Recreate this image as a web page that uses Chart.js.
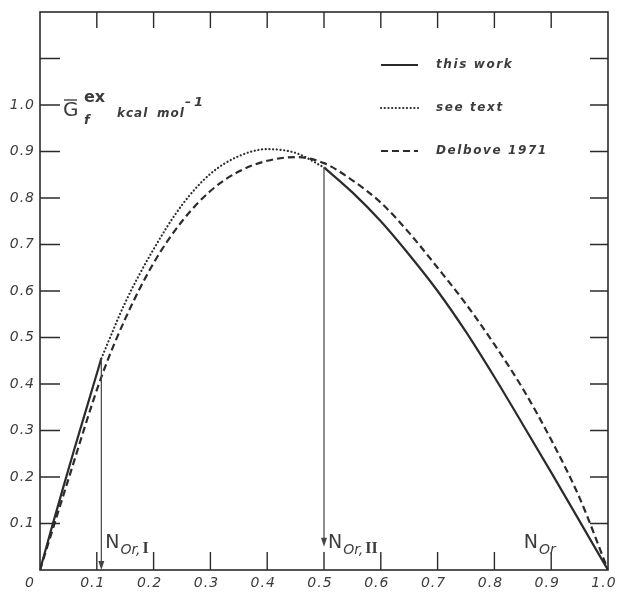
<!DOCTYPE html>
<html>
<head>
<meta charset="utf-8">
<script src="https://cdn.jsdelivr.net/npm/chart.js@4/dist/chart.umd.min.js"></script>
<style>
    html, body { margin: 0; padding: 0; background: #fff; }
</style>
</head>
<body>
<canvas id="graficoEnergia" width="618" height="592"></canvas>
<script>

// ------------------------------------------------ DATOS ------------------------------------------------

    const xTicks = [0, 0.1, 0.2, 0.3, 0.4, 0.5, 0.6, 0.7, 0.8, 0.9, 1.0];
    const xTickLabels = ['0', '0.1', '0.2', '0.3', '0.4', '0.5', '0.6', '0.7', '0.8', '0.9', '1.0'];
    const yTicks = [0.1, 0.2, 0.3, 0.4, 0.5, 0.6, 0.7, 0.8, 0.9, 1.0, 1.1];
    const yTickLabels = ['0.1', '0.2', '0.3', '0.4', '0.5', '0.6', '0.7', '0.8', '0.9', '1.0', ''];

    const nombresSeries = ['this work', 'see text', 'Delbove 1971'];

    // this work (null = hueco entre las dos ramas)
    const thisWorkX = [0, 0.02, 0.04, 0.06, 0.08, 0.108, 0.3, 0.5, 0.55, 0.6, 0.65, 0.7, 0.75, 0.8, 0.85, 0.9, 0.95, 1.0];
    const thisWorkY = [0, 0.088, 0.174, 0.258, 0.34, 0.455, null, 0.866, 0.812, 0.75, 0.678, 0.60, 0.512, 0.415, 0.313, 0.21, 0.105, 0];

    // see text
    const seeTextX = [0.108, 0.15, 0.2, 0.25, 0.3, 0.35, 0.4, 0.45, 0.5];
    const seeTextY = [0.455, 0.575, 0.69, 0.785, 0.852, 0.89, 0.905, 0.897, 0.866];

    // Delbove 1971
    const delboveX = [0, 0.05, 0.108, 0.15, 0.2, 0.25, 0.3, 0.35, 0.4, 0.45, 0.5, 0.55, 0.6, 0.65, 0.7, 0.75, 0.8, 0.85, 0.9, 0.95, 1.0];
    const delboveY = [0, 0.195, 0.415, 0.54, 0.66, 0.75, 0.815, 0.857, 0.88, 0.888, 0.875, 0.838, 0.79, 0.725, 0.65, 0.572, 0.485, 0.39, 0.28, 0.155, 0];

    // flechas verticales N_Or,I y N_Or,II
    const flechasX = [0.108, 0.5];
    const flechasArriba = [0.455, 0.866];
    const flechasAbajo = [0, 0.05];
    const flechasRomano = ['I', 'II'];

    const composicionNOr = 0.85;

// ------------------------------------------------ PLUGIN DIBUJO ------------------------------------------------

    const colorTinta = '#2b2b2b';
    const colorTexto = '#3c3c3c';

    function puntos(xs, ys) {
        return xs.map((x, i) => ({ x: x, y: ys[i] }));
    }

    function etiquetaN(ctx, x, base, romano, subTexto) {
        ctx.fillStyle = colorTexto;
        ctx.textAlign = 'left';
        ctx.textBaseline = 'alphabetic';
        ctx.letterSpacing = '0px';
        ctx.font = '19px "DejaVu Sans"';
        ctx.fillText('N', x, base);
        let px = x + ctx.measureText('N').width + 1;
        ctx.font = 'italic 14px "DejaVu Sans"';
        ctx.fillText(subTexto, px, base + 6);
        px += ctx.measureText(subTexto).width + 2;
        if (romano) {
            ctx.font = 'bold 16px "Liberation Serif"';
            ctx.fillText(romano, px, base + 5);
        }
    }

    const pluginDibujo = {
        id: 'dibujo',
        afterDraw(chart) {
            const ctx = chart.ctx;
            const area = chart.chartArea;
            const sx = chart.scales.x;
            const sy = chart.scales.y;
            ctx.save();

            // marco
            ctx.strokeStyle = colorTinta;
            ctx.lineWidth = 1.6;
            ctx.strokeRect(area.left, area.top, area.right - area.left, area.bottom - area.top);

            // ticks hacia dentro
            ctx.lineWidth = 1.4;
            ctx.beginPath();
            xTicks.forEach(v => {
                if (v <= 0 || v >= 1) return;
                const px = sx.getPixelForValue(v);
                ctx.moveTo(px, area.bottom); ctx.lineTo(px, area.bottom - 18);
                ctx.moveTo(px, area.top); ctx.lineTo(px, area.top + 16);
            });
            yTicks.forEach(v => {
                const py = sy.getPixelForValue(v);
                ctx.moveTo(area.left, py); ctx.lineTo(area.left + 20, py);
                ctx.moveTo(area.right, py); ctx.lineTo(area.right - 18, py);
            });
            ctx.stroke();

            // etiquetas de los ejes
            ctx.fillStyle = colorTexto;
            ctx.font = 'italic 14px "DejaVu Sans"';
            ctx.letterSpacing = '1px';
            ctx.textAlign = 'center';
            ctx.textBaseline = 'middle';
            xTicks.forEach((v, i) => {
                const px = sx.getPixelForValue(v) - (v === 0 ? 10 : 4);
                ctx.fillText(xTickLabels[i], px, area.bottom + 13);
            });
            ctx.textAlign = 'right';
            yTicks.forEach((v, i) => {
                ctx.fillText(yTickLabels[i], area.left - 5, sy.getPixelForValue(v));
            });

            // flechas
            ctx.strokeStyle = '#444';
            ctx.fillStyle = '#444';
            ctx.lineWidth = 1.2;
            flechasX.forEach((v, i) => {
                const px = sx.getPixelForValue(v);
                const y1 = sy.getPixelForValue(flechasArriba[i]);
                const y2 = sy.getPixelForValue(flechasAbajo[i]);
                ctx.beginPath();
                ctx.moveTo(px, y1); ctx.lineTo(px, y2 - 4);
                ctx.stroke();
                ctx.beginPath();
                ctx.moveTo(px - 3, y2 - 9); ctx.lineTo(px + 3, y2 - 9); ctx.lineTo(px, y2);
                ctx.closePath();
                ctx.fill();
            });

            // N_Or
            const baseN = area.bottom - 22;
            etiquetaN(ctx, sx.getPixelForValue(flechasX[0]) + 4, baseN, flechasRomano[0], 'Or,');
            etiquetaN(ctx, sx.getPixelForValue(flechasX[1]) + 4, baseN, flechasRomano[1], 'Or,');
            etiquetaN(ctx, sx.getPixelForValue(composicionNOr) + 1, baseN, null, 'Or');

            // titulo eje y: G_f^ex kcal mol^-1
            ctx.textAlign = 'left';
            ctx.textBaseline = 'alphabetic';
            ctx.letterSpacing = '0px';
            ctx.fillStyle = colorTexto;
            ctx.font = '20px "DejaVu Sans"';
            ctx.fillText('G', 63, 116);
            ctx.lineWidth = 1.4;
            ctx.beginPath();
            ctx.moveTo(64, 100); ctx.lineTo(77, 100);
            ctx.stroke();
            ctx.font = 'bold 16px "DejaVu Sans"';
            ctx.fillText('ex', 84, 102);
            ctx.font = 'bold italic 13px "DejaVu Sans"';
            ctx.fillText('f', 84, 124);
            ctx.font = 'bold italic 12px "DejaVu Sans"';
            ctx.letterSpacing = '1px';
            ctx.fillText('kcal', 117, 117);
            ctx.fillText('mol', 157, 117);
            ctx.fillText('\u2013', 185, 106);
            ctx.font = 'bold italic 13px "DejaVu Sans"';
            ctx.fillText('1', 194, 106);

            // leyenda
            const legendaY = [65, 108, 151];
            chart.data.datasets.forEach((ds, i) => {
                if (i > 2) return;
                const y = legendaY[i];
                ctx.strokeStyle = ds.borderColor;
                ctx.lineWidth = ds.borderWidth;
                ctx.lineCap = ds.borderCapStyle || 'butt';
                ctx.setLineDash(ds.borderDash || []);
                ctx.beginPath();
                ctx.moveTo(381, y); ctx.lineTo(418, y);
                ctx.stroke();
                ctx.setLineDash([]);
                ctx.lineCap = 'butt';
                ctx.fillStyle = colorTexto;
                ctx.font = 'bold italic 12px "DejaVu Sans"';
                ctx.letterSpacing = '1.6px';
                ctx.textBaseline = 'middle';
                ctx.fillText(nombresSeries[i], 436, y);
            });

            ctx.restore();
        }
    };

// ------------------------------------------------ GRAFICO ------------------------------------------------

    const configEnergia = {
        type: 'line',
        data: {
            datasets: [{
                label: nombresSeries[0],
                data: puntos(thisWorkX, thisWorkY),
                borderColor: colorTinta,
                borderWidth: 2.2,
                cubicInterpolationMode: 'monotone',
                spanGaps: false,
                pointRadius: 0
            },
            {
                label: nombresSeries[1],
                data: puntos(seeTextX, seeTextY),
                borderColor: colorTinta,
                borderWidth: 2.2,
                borderDash: [0.1, 3.6],
                borderCapStyle: 'round',
                cubicInterpolationMode: 'monotone',
                pointRadius: 0
            },
            {
                label: nombresSeries[2],
                data: puntos(delboveX, delboveY),
                borderColor: colorTinta,
                borderWidth: 2.2,
                borderDash: [7, 4],
                cubicInterpolationMode: 'monotone',
                pointRadius: 0
            }]
        },
        options: {
            responsive: false,
            animation: false,
            devicePixelRatio: 1,
            layout: {
                padding: { left: 40, right: 10, top: 12, bottom: 22 }
            },
            plugins: {
                legend: { display: false },
                tooltip: { enabled: false }
            },
            scales: {
                x: { type: 'linear', min: 0, max: 1, display: false },
                y: { type: 'linear', min: 0, max: 1.2, display: false }
            }
        },
        plugins: [pluginDibujo]
    };

    var energiaChart = new Chart(
        document.getElementById('graficoEnergia'),
        configEnergia
    );

</script>
</body>
</html>
